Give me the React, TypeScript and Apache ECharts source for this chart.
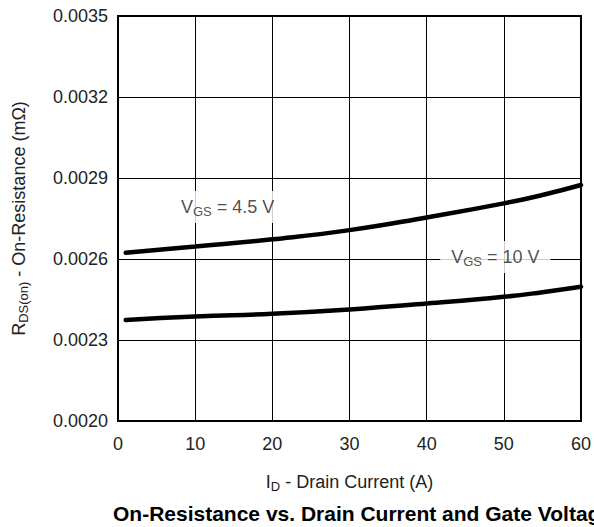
import React, { useEffect, useRef } from "react";
import * as echarts from "echarts";

const current = [1, 10, 20, 30, 40, 50, 55, 60];
const vgs45 = [0.002623, 0.002646, 0.002673, 0.002707, 0.002754, 0.002806, 0.002837, 0.002874];
const vgs10 = [0.002374, 0.002387, 0.002397, 0.002413, 0.002435, 0.00246, 0.002477, 0.002497];
const labelPoints = [
  { text: "V{s|GS} = 4.5 V", at: [14.2, 0.002793] },
  { text: "V{s|GS} = 10 V", at: [48.9, 0.002607] },
];
const xTicks = { min: 0, max: 60, interval: 10 };
const yTicks = { min: 0.002, max: 0.0035, interval: 0.0003 };

const FONT = "'Liberation Sans', Arial, Helvetica, sans-serif";

export default function App() {
  const ref = useRef<HTMLDivElement>(null);
  useEffect(() => {
    if (!ref.current) return;
    const chart = echarts.init(ref.current, null, { renderer: "svg" });
    const rich = {
      n: { fontSize: 18, fontFamily: FONT, color: "#222", lineHeight: 18 },
      s: { fontSize: 13, fontFamily: FONT, color: "#222", verticalAlign: "bottom", padding: [9, 0, 0, 0] },
    };
    chart.setOption({
      animation: false,
      backgroundColor: "#fff",
      title: {
        text: "On-Resistance vs. Drain Current and Gate Voltage",
        left: 108,
        top: 498,
        textStyle: { fontFamily: FONT, fontSize: 21, fontWeight: "bold", color: "#000" },
      },
      grid: {
        left: 118,
        right: 12,
        top: 16,
        bottom: 106,
        show: true,
        borderColor: "#000",
        borderWidth: 2,
        backgroundColor: "transparent",
      },
      xAxis: {
        type: "value",
        min: xTicks.min,
        max: xTicks.max,
        interval: xTicks.interval,
        axisLine: { show: true, lineStyle: { color: "#000", width: 2 } },
        axisTick: { show: false },
        splitLine: { show: true, lineStyle: { color: "#000", width: 1 } },
        axisLabel: { fontFamily: FONT, fontSize: 18, color: "#222", margin: 14 },
        name: "{n|I}{s|D}{n| - Drain Current (A)}",
        nameLocation: "middle",
        nameGap: 50,
        nameTextStyle: { rich },
      },
      yAxis: {
        type: "value",
        min: yTicks.min,
        max: yTicks.max,
        interval: yTicks.interval,
        axisLine: { show: true, lineStyle: { color: "#000", width: 2 } },
        axisTick: { show: false },
        splitLine: { show: true, lineStyle: { color: "#000", width: 1 } },
        axisLabel: {
          fontFamily: FONT,
          fontSize: 18,
          color: "#222",
          margin: 10,
          formatter: (v: number) => v.toFixed(4),
        },
        name: "{n|R}{s|DS(on)}{n| - On-Resistance (mΩ)}",
        nameLocation: "middle",
        nameGap: 88,
        nameTextStyle: { rich },
      },
      series: [
        {
          type: "line",
          data: current.map((x, i) => [x, vgs45[i]]),
          smooth: true,
          symbol: "none",
          lineStyle: { color: "#000", width: 4.5, cap: "round" },
          z: 3,
        },
        {
          type: "line",
          data: current.map((x, i) => [x, vgs10[i]]),
          smooth: true,
          symbol: "none",
          lineStyle: { color: "#000", width: 4.5, cap: "round" },
          z: 3,
        },
        {
          type: "scatter",
          symbolSize: 0,
          z: 5,
          data: labelPoints.map((p) => ({ value: p.at, name: p.text })),
          label: {
            show: true,
            position: "inside",
            formatter: (p: any) =>
              p.name.replace(/^V/, "{n|V}").replace(/ = (.*)$/, "{n| = $1}"),
            backgroundColor: "#fff",
            padding: [5, 11, 5, 11],
            rich,
          },
        },
      ],
    });
    return () => chart.dispose();
  }, []);
  return (
    <div
      ref={ref}
      style={{ position: "fixed", left: 0, top: 0, width: 594, height: 527 }}
    />
  );
}
